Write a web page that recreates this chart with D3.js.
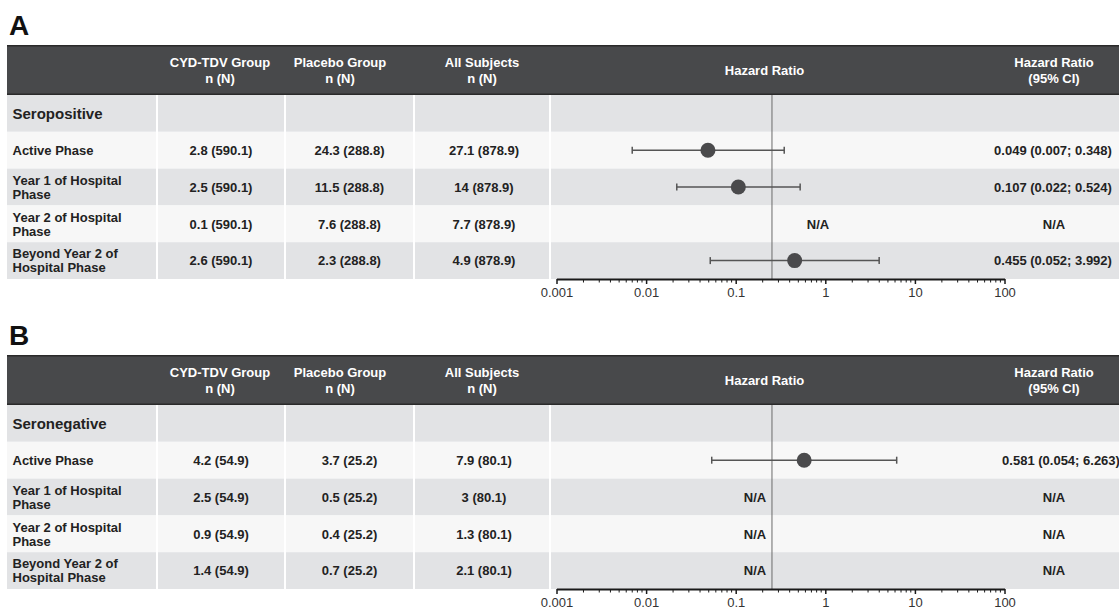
<!DOCTYPE html>
<html>
<head>
<meta charset="utf-8">
<script src="https://cdn.jsdelivr.net/npm/d3@7"></script>
<style>
  body { margin: 0; background: #fff; }
  svg { display: block; font-family: "Liberation Sans", Arial, sans-serif; }
</style>
</head>
<body>
<div id="chart"></div>
<script>
// ---- data ----
const rowLabels = [["Active Phase"], ["Year 1 of Hospital", "Phase"], ["Year 2 of Hospital", "Phase"], ["Beyond Year 2 of", "Hospital Phase"]];
const columnHeaders = [["CYD-TDV Group", "n (N)"], ["Placebo Group", "n (N)"], ["All Subjects", "n (N)"]];
const hrTicks = [0.001, 0.01, 0.1, 1, 10, 100];
const refHR = 0.254;

// panel A - seropositive
const seroposCyd = [2.8, 2.5, 0.1, 2.6];
const seroposCydN = 590.1;
const seroposPlacebo = [24.3, 11.5, 7.6, 2.3];
const seroposPlaceboN = 288.8;
const seroposAll = [27.1, 14, 7.7, 4.9];
const seroposAllN = 878.9;
const seroposHR = [0.049, 0.107, null, 0.455];
const seroposLow = [0.007, 0.022, null, 0.052];
const seroposHigh = [0.348, 0.524, null, 3.992];

// panel B - seronegative
const seronegCyd = [4.2, 2.5, 0.9, 1.4];
const seronegCydN = 54.9;
const seronegPlacebo = [3.7, 0.5, 0.4, 0.7];
const seronegPlaceboN = 25.2;
const seronegAll = [7.9, 3, 1.3, 2.1];
const seronegAllN = 80.1;
const seronegHR = [0.581, null, null, null];
const seronegLow = [0.054, null, null, null];
const seronegHigh = [6.263, null, null, null];

const panels = [
  {letter: "A", group: "Seropositive", cols: [[seroposCyd, seroposCydN], [seroposPlacebo, seroposPlaceboN], [seroposAll, seroposAllN]],
   hr: seroposHR, lo: seroposLow, hi: seroposHigh, top: 0, naX: 818, ciX: 1053},
  {letter: "B", group: "Seronegative", cols: [[seronegCyd, seronegCydN], [seronegPlacebo, seronegPlaceboN], [seronegAll, seronegAllN]],
   hr: seronegHR, lo: seronegLow, hi: seronegHigh, top: 310, naX: 755, ciX: 1061}
];

// ---- layout ----
const width = 1119, height = 611;
const colEdges = [7, 157, 285, 414, 550, width];
const headerCenters = [220, 340, 482];
const valueCenters = [221, 349.5, 484];
const headerTop = 45, headerBottom = 95, rowH = 36.8;
const naCiX = 1054;

const svg = d3.select("#chart").append("svg")
  .attr("width", width)
  .attr("height", height);

const x = d3.scaleLog()
  .domain([0.001, 100])
  .range([556.5, 1004.5]);

const minorTicks = [];
hrTicks.slice(0, -1).forEach(t => {
  for (let k = 2; k <= 9; k++) minorTicks.push(t * k);
});

panels.forEach(p => {
  const g = svg.append("g").attr("transform", `translate(0,${p.top})`);

  g.append("text")
    .attr("x", 9)
    .attr("y", 35)
    .attr("font-size", "28px")
    .attr("font-weight", "bold")
    .attr("fill", "#111")
    .text(p.letter);

  // header
  g.append("rect")
    .attr("x", colEdges[0]).attr("y", headerTop)
    .attr("width", width - colEdges[0]).attr("height", headerBottom - headerTop)
    .attr("fill", "#48494b");
  [headerTop + 0.75, headerBottom - 0.75].forEach(yy => {
    g.append("line")
      .attr("x1", colEdges[0]).attr("x2", width)
      .attr("y1", yy).attr("y2", yy)
      .attr("stroke", "#2a2a2a").attr("stroke-width", 1.5);
  });

  columnHeaders.forEach((lines, i) => {
    const t = g.append("text")
      .attr("text-anchor", "middle")
      .attr("font-size", "13px").attr("font-weight", "bold")
      .attr("fill", "#fff");
    lines.forEach((l, j) => {
      t.append("tspan").attr("x", headerCenters[i]).attr("y", 67 + j * 16).text(l);
    });
  });

  g.append("text")
    .attr("x", 764.5).attr("y", 75)
    .attr("text-anchor", "middle")
    .attr("font-size", "13px").attr("font-weight", "bold")
    .attr("fill", "#fff")
    .text("Hazard Ratio");

  const ciHead = g.append("text")
    .attr("text-anchor", "middle")
    .attr("font-size", "13px").attr("font-weight", "bold")
    .attr("fill", "#fff");
  ["Hazard Ratio", "(95% CI)"].forEach((l, j) => {
    ciHead.append("tspan").attr("x", naCiX).attr("y", 67 + j * 16).text(l);
  });

  // body rows (group row + 4 data rows)
  const rowTop = i => headerBottom + i * rowH;
  d3.range(5).forEach(i => {
    g.append("rect")
      .attr("x", colEdges[0]).attr("y", rowTop(i))
      .attr("width", width - colEdges[0]).attr("height", rowH)
      .attr("fill", i % 2 === 0 ? "#e2e3e5" : "#f7f7f7");
  });

  colEdges.slice(1, 5).forEach(cx => {
    g.append("line")
      .attr("x1", cx).attr("x2", cx)
      .attr("y1", headerBottom).attr("y2", rowTop(5))
      .attr("stroke", "#fff").attr("stroke-width", 2);
  });

  g.append("text")
    .attr("x", 12.5).attr("y", rowTop(0) + rowH / 2)
    .attr("dy", "0.36em")
    .attr("font-size", "15px").attr("font-weight", "bold")
    .attr("fill", "#222")
    .text(p.group);

  rowLabels.forEach((lines, r) => {
    const cy = rowTop(r + 1) + rowH / 2;
    const t = g.append("text")
      .attr("font-size", "13px").attr("font-weight", "bold")
      .attr("fill", "#222");
    lines.forEach((l, j) => {
      t.append("tspan")
        .attr("x", 12.5)
        .attr("y", cy + 4.7 + (j - (lines.length - 1) / 2) * 14)
        .text(l);
    });

    p.cols.forEach(([vals, total], c) => {
      g.append("text")
        .attr("x", valueCenters[c]).attr("y", cy + 4.7)
        .attr("text-anchor", "middle")
        .attr("font-size", "13px").attr("font-weight", "bold")
        .attr("fill", "#222")
        .text(`${vals[r]} (${total})`);
    });

    const hasHR = p.hr[r] !== null;
    g.append("text")
      .attr("x", hasHR ? p.ciX : naCiX).attr("y", cy + 4.7)
      .attr("text-anchor", "middle")
      .attr("font-size", "13px").attr("font-weight", "bold")
      .attr("fill", "#222")
      .text(hasHR ? `${p.hr[r].toFixed(3)} (${p.lo[r].toFixed(3)}; ${p.hi[r].toFixed(3)})` : "N/A");

    if (!hasHR) {
      g.append("text")
        .attr("x", p.naX).attr("y", cy + 4.7)
        .attr("text-anchor", "middle")
        .attr("font-size", "13px").attr("font-weight", "bold")
        .attr("fill", "#222")
        .text("N/A");
    }
  });

  // reference line
  g.append("line")
    .attr("x1", x(refHR)).attr("x2", x(refHR))
    .attr("y1", headerBottom).attr("y2", rowTop(5))
    .attr("stroke", "#6b6b6b").attr("stroke-width", 1);

  // CI whiskers + points
  rowLabels.forEach((_, r) => {
    if (p.hr[r] === null) return;
    const cy = rowTop(r + 1) + rowH / 2;
    g.append("line")
      .attr("x1", x(p.lo[r])).attr("x2", x(p.hi[r]))
      .attr("y1", cy).attr("y2", cy)
      .attr("stroke", "#555").attr("stroke-width", 1.5);
    [p.lo[r], p.hi[r]].forEach(v => {
      g.append("line")
        .attr("x1", x(v)).attr("x2", x(v))
        .attr("y1", cy - 3.5).attr("y2", cy + 3.5)
        .attr("stroke", "#555").attr("stroke-width", 1.5);
    });
    g.append("circle")
      .attr("cx", x(p.hr[r])).attr("cy", cy)
      .attr("r", 7.5)
      .attr("fill", "#4a4a4c");
  });

  // axis
  const axisY = rowTop(5);
  const axisG = g.append("g")
    .attr("transform", `translate(0,${axisY})`)
    .call(d3.axisBottom(x)
      .tickValues(hrTicks)
      .tickFormat(d => d3.format("~g")(d))
      .tickSize(5)
      .tickSizeOuter(0)
      .tickPadding(4));
  axisG.select(".domain").attr("stroke", "#1a1a1a").attr("stroke-width", 2.2);
  axisG.selectAll(".tick line").attr("stroke", "#1a1a1a").attr("stroke-width", 1.5);
  axisG.selectAll(".tick text")
    .attr("font-size", "13px")
    .attr("font-family", "Liberation Sans, Arial, sans-serif")
    .attr("fill", "#333");

  g.append("g")
    .attr("transform", `translate(0,${axisY})`)
    .selectAll("line")
    .data(minorTicks)
    .enter()
    .append("line")
    .attr("x1", d => x(d)).attr("x2", d => x(d))
    .attr("y1", 0).attr("y2", 3.5)
    .attr("stroke", "#1a1a1a").attr("stroke-width", 1);
});
</script>
</body>
</html>
